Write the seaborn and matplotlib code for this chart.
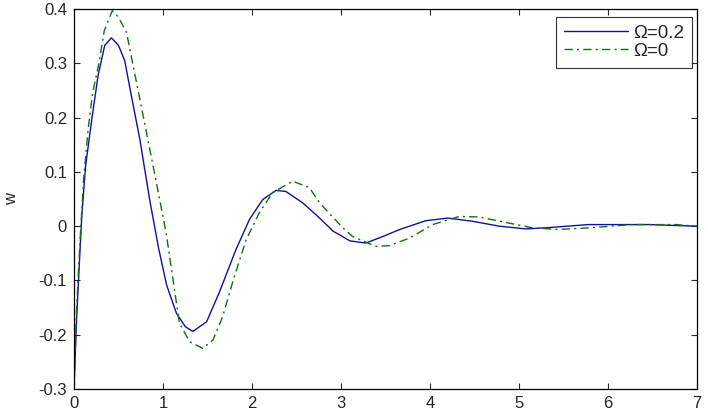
import numpy as np
import pandas as pd
import seaborn as sns
import matplotlib
matplotlib.use("Agg")
import matplotlib.pyplot as plt

# Omega = 0.2 (solid blue)
t_a = [0, 0.03, 0.07, 0.09, 0.13, 0.2, 0.27, 0.345, 0.42, 0.5, 0.57, 0.645, 0.74, 0.85,
       0.95, 1.04, 1.15, 1.25, 1.335, 1.49, 1.63, 1.82, 1.97, 2.12, 2.27, 2.38, 2.57,
       2.76, 2.91, 3.1, 3.28, 3.47, 3.66, 3.95, 4.2, 4.48, 4.78, 5.08, 5.3, 5.78, 6.46, 7.0]
w_a = [-0.3, -0.169, -0.037, 0.025, 0.11, 0.197, 0.277, 0.333, 0.347, 0.333, 0.305, 0.24,
       0.16, 0.049, -0.04, -0.108, -0.16, -0.185, -0.194, -0.176, -0.123, -0.043, 0.012,
       0.049, 0.066, 0.064, 0.043, 0.015, -0.009, -0.027, -0.031, -0.019, -0.006, 0.01,
       0.015, 0.009, 0.0, -0.005, -0.003, 0.003, 0.003, 0.0]

# Omega = 0 (green dash-dot)
t_b = [0, 0.03, 0.07, 0.11, 0.16, 0.21, 0.28, 0.34, 0.43, 0.5, 0.59, 0.74, 0.89, 1.035,
       1.185, 1.3, 1.447, 1.56, 1.67, 1.79, 1.934, 2.083, 2.233, 2.457, 2.645, 2.76, 3.02,
       3.13, 3.39, 3.54, 3.77, 4.03, 4.33, 4.55, 4.85, 5.15, 5.45, 5.79, 6.27, 6.76, 7.0]
w_b = [-0.3, -0.15, -0.02, 0.09, 0.18, 0.246, 0.3, 0.36, 0.397, 0.385, 0.357, 0.234, 0.11,
       -0.012, -0.179, -0.213, -0.225, -0.21, -0.167, -0.099, -0.025, 0.025, 0.062, 0.083,
       0.071, 0.043, -0.003, -0.019, -0.037, -0.036, -0.022, 0.003, 0.018, 0.017, 0.007,
       -0.003, -0.006, -0.003, 0.003, 0.003, 0.0]

x_ticks = [0, 1, 2, 3, 4, 5, 6, 7]
y_ticks = [-0.3, -0.2, -0.1, 0, 0.1, 0.2, 0.3, 0.4]
y_labels = ["-0.3", "-0.2", "-0.1", "0", "0.1", "0.2", "0.3", "0.4"]

sns.set_style("white")
plt.rcParams['font.family'] = ['Liberation Sans', 'DejaVu Sans']

fig = plt.figure(figsize=(7.08, 4.13), dpi=100)
ax = fig.add_axes([0.1045, 0.058, 0.880, 0.920])

sns.lineplot(x=t_a, y=w_a, ax=ax, color='#1010a0', lw=1.0, sort=False,
             label='\u03a9=0.2')
sns.lineplot(x=t_b, y=w_b, ax=ax, color='#107010', lw=1.0, sort=False,
             linestyle=(0, (6, 3, 1.5, 3)), label='\u03a9=0')

ax.set_xlim(0, 7)
ax.set_ylim(-0.3, 0.4)
ax.set_xticks(x_ticks)
ax.set_yticks(y_ticks)
ax.set_yticklabels(y_labels)
ax.set_ylabel('w', fontsize=12, labelpad=14)
ax.tick_params(direction='in', length=4, width=0.8, labelsize=12,
               top=True, right=True, bottom=True, left=True, pad=5)
for s in ax.spines.values():
    s.set_color('black')
    s.set_linewidth(0.9)

leg = ax.legend(loc='upper right', bbox_to_anchor=(0.977, 0.958),
                bbox_transform=fig.transFigure, fontsize=13.5, handlelength=3.4,
                handletextpad=0.3, frameon=True, fancybox=False, borderaxespad=0,
                borderpad=0.4, labelspacing=0.05)
leg.get_frame().set_edgecolor('black')
leg.get_frame().set_linewidth(0.8)

fig.savefig('out.png', dpi=100)
